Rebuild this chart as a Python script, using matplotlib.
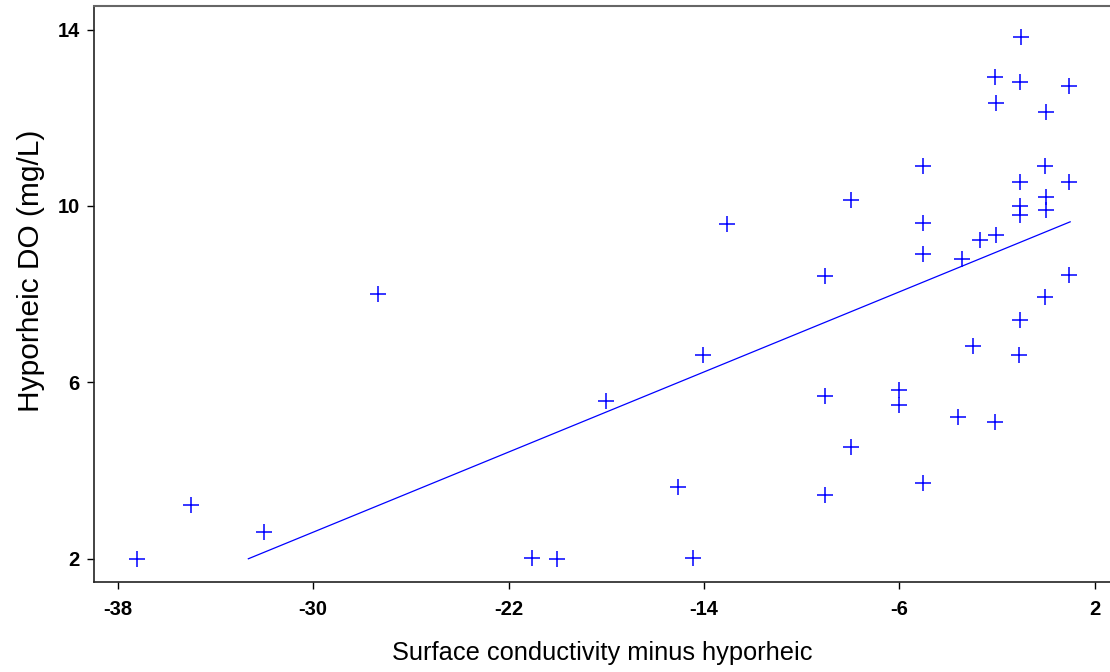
import numpy as np
import matplotlib
matplotlib.use("Agg")
import matplotlib.pyplot as plt

# ── data ──────────────────────────────────────────────────────────────────────
cond_diff = [
    -37.2, -35.0, -32.0, -27.35, -21.05, -20.03, -18.0, -15.05, -14.46, -14.04,
    -13.07, -9.06, -9.06, -9.06, -8.0, -8.0, -6.0, -6.0, -5.05, -5.05,
    -5.05, -5.03, -3.6, -3.45, -3.0, -2.69, -2.08, -2.04, -2.04, -2.08,
    -1.02, -1.07, -1.07, -1.07, -1.07, -1.07, -1.1, 0.0, -0.06, -0.01,
    -0.01, -0.04, 0.93, 0.93, 0.94,
]
hypo_do = [
    2.0, 3.22, 2.61, 8.01, 2.02, 2.0, 5.58, 3.62, 2.02, 6.61,
    9.58, 8.41, 5.70, 3.44, 10.13, 4.54, 5.83, 5.49, 10.9, 9.62,
    8.9, 3.72, 5.21, 8.8, 6.82, 9.23, 12.92, 12.33, 9.34, 5.1,
    13.82, 12.82, 10.54, 10.0, 9.8, 7.41, 6.63, 12.12, 10.9, 10.21,
    9.91, 7.93, 12.71, 10.54, 8.43,
]

# fitted line as drawn in the reference
fit_slope = 0.2271
fit_intercept = 9.415
fit_xrange = [-32.65, 0.99]

x_ticks = [-38, -30, -22, -14, -6, 2]
y_ticks = [2, 6, 10, 14]

# ── figure ────────────────────────────────────────────────────────────────────
plt.rcParams["font.family"] = ["Liberation Sans", "DejaVu Sans"]
plt.rcParams["axes.unicode_minus"] = False

fig = plt.figure(figsize=(11.1, 6.72), dpi=100)
ax = fig.add_axes([93.7 / 1110, 1 - 581.7 / 672, 1 - 93.7 / 1110, (581.7 - 5.7) / 672])

ax.plot(cond_diff, hypo_do, linestyle="none", marker="+", markersize=11,
        markeredgewidth=1.1, color="#0000ff")

fx = np.array(fit_xrange)
ax.plot(fx, fit_intercept + fit_slope * fx, color="#0000ff", linewidth=0.9)

ax.set_xlim(-38.98, 2.62)
ax.set_ylim(1.48, 14.54)
ax.set_xticks(x_ticks)
ax.set_yticks(y_ticks)
ax.tick_params(direction="out", length=5, width=1, labelsize=14.5, pad=5)
for lab in ax.get_xticklabels() + ax.get_yticklabels():
    lab.set_fontweight("bold")
ax.tick_params(axis="x", pad=8)

for side in ["left", "bottom"]:
    ax.spines[side].set_color("#222222")
    ax.spines[side].set_linewidth(1.2)
ax.spines["top"].set_color("#666666")
ax.spines["top"].set_linewidth(1.5)
ax.spines["right"].set_visible(False)

ax.set_xlabel("Surface conductivity minus hyporheic", fontsize=18.3, labelpad=16)
ax.set_ylabel("Hyporheic DO (mg/L)", fontsize=21.5)
ax.yaxis.set_label_coords(-0.048, 0.54)

fig.savefig("out.png", dpi=100)
